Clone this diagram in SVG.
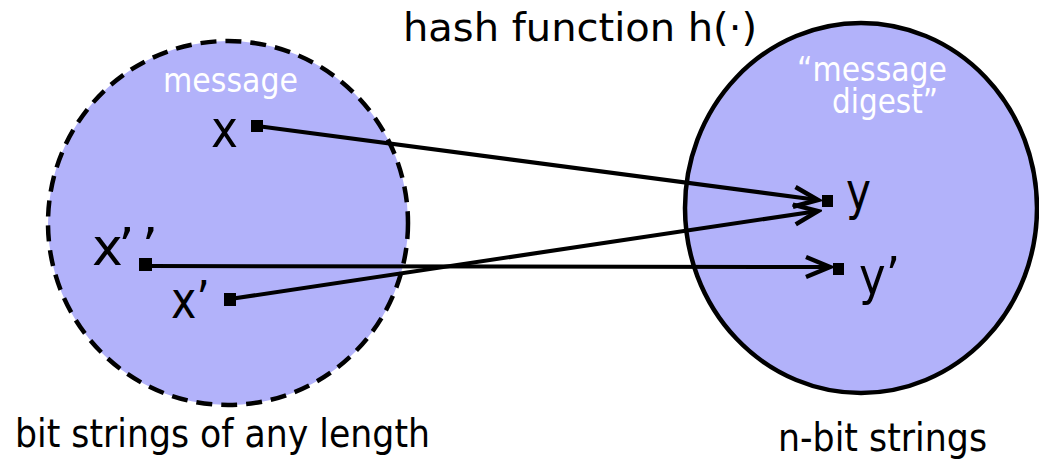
<svg xmlns="http://www.w3.org/2000/svg" width="1039" height="459" viewBox="0 0 1039 459">
  <style>
    text { font-family: "DejaVu Sans", Verdana, sans-serif; }
    .lbl { fill: #000; font-size: 39px; }
    .inner { fill: #fff; font-size: 33px; }
    .var { fill: #000; font-size: 52px; }
    .set { fill: #b2b2fa; stroke: #000; stroke-width: 4.5; }
    .dashed { stroke-dasharray: 16 9; }
    .pt { fill: #000; }
    .conn { stroke: #000; stroke-width: 4; fill: none; marker-end: url(#arr); }
  </style>
  <defs>
    <marker id="arr" markerUnits="userSpaceOnUse" markerWidth="32" markerHeight="28" viewBox="-28 -14 32 28" refX="0" refY="0" orient="auto">
      <path d="M -24 -10 L 0 0 L -24 10" fill="none" stroke="#000" stroke-width="4.5" stroke-linejoin="miter"/>
    </marker>
  </defs>

  <g id="domain">
    <ellipse class="set dashed" cx="228" cy="223" rx="180" ry="182"/>
    <text class="inner" x="163" y="92" textLength="135" lengthAdjust="spacingAndGlyphs">message</text>
  </g>
  <g id="range">
    <ellipse class="set" cx="861" cy="208" rx="176" ry="185"/>
    <text class="inner"><tspan x="797" y="81" textLength="150" lengthAdjust="spacingAndGlyphs">“message</tspan><tspan x="832" y="113" textLength="106" lengthAdjust="spacingAndGlyphs">digest”</tspan></text>
  </g>

  <g id="title">
    <text class="lbl" x="403" y="41" textLength="354" lengthAdjust="spacingAndGlyphs">hash function h(·)</text>
  </g>
  <g id="domain-label">
    <text class="lbl" x="15" y="447" textLength="415" lengthAdjust="spacingAndGlyphs">bit strings of any length</text>
  </g>
  <g id="range-label">
    <text class="lbl" x="778" y="451" textLength="209" lengthAdjust="spacingAndGlyphs">n-bit strings</text>
  </g>

  <g id="node-x">
    <rect class="pt" x="251" y="120" width="12" height="12"/>
    <text class="var" x="211" y="147" textLength="27" lengthAdjust="spacingAndGlyphs">x</text>
  </g>
  <g id="node-x2">
    <rect class="pt" x="139" y="258" width="13" height="13"/>
    <text class="var" x="92" y="265" textLength="66" lengthAdjust="spacing">x’ ’</text>
  </g>
  <g id="node-x1">
    <rect class="pt" x="224" y="293" width="12" height="13"/>
    <text class="var" x="171" y="318" textLength="39" lengthAdjust="spacingAndGlyphs">x’</text>
  </g>
  <g id="node-y">
    <rect class="pt" x="822" y="195" width="11" height="12"/>
    <text class="var" x="846" y="209" textLength="25" lengthAdjust="spacingAndGlyphs">y</text>
  </g>
  <g id="node-y1">
    <rect class="pt" x="833" y="263" width="11" height="12"/>
    <text class="var" x="859" y="294" textLength="41" lengthAdjust="spacingAndGlyphs">y’</text>
  </g>

  <g id="connectors">
    <line class="conn" x1="257" y1="126" x2="818" y2="200"/>
    <line class="conn" x1="230" y1="299" x2="818" y2="211"/>
    <line class="conn" x1="150" y1="266" x2="830" y2="267"/>
  </g>
</svg>
